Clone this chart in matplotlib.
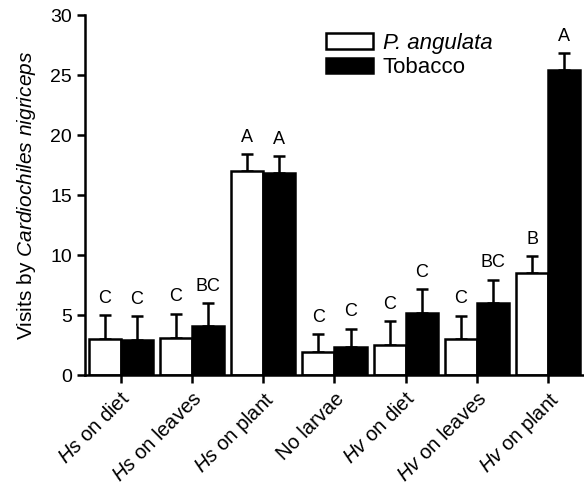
import numpy as np
import matplotlib
matplotlib.use("Agg")
import matplotlib.pyplot as plt

plt.rcParams['font.family'] = ['Liberation Sans', 'DejaVu Sans']
plt.rcParams['mathtext.fontset'] = 'custom'
plt.rcParams['mathtext.rm'] = 'Liberation Sans'
plt.rcParams['mathtext.it'] = 'Liberation Sans:italic'

# ---- DATA
groups   = [r'$\it{Hs}$ on diet', r'$\it{Hs}$ on leaves', r'$\it{Hs}$ on plant', 'No larvae',
            r'$\it{Hv}$ on diet', r'$\it{Hv}$ on leaves', r'$\it{Hv}$ on plant']
angulata = [3.0, 3.1, 17.0, 1.9, 2.5, 3.0, 8.5]
ang_err  = [2.0, 2.0, 1.4, 1.5, 2.0, 1.95, 1.4]
tobacco  = [2.9, 4.05, 16.8, 2.35, 5.15, 6.0, 25.4]
tob_err  = [2.0, 1.95, 1.45, 1.5, 2.0, 1.95, 1.4]
ang_lett = ['C', 'C', 'A', 'C', 'C', 'C', 'B']
tob_lett = ['C', 'BC', 'A', 'C', 'C', 'BC', 'A']

# ---- PLOT
fig = plt.figure(figsize=(5.84, 4.84), dpi=100)
ax  = fig.add_axes([0.1455, 0.2252, 0.8545, 0.7438])

x  = np.arange(len(groups))
w  = 0.45
lw = 1.8

ax.bar(x - w, angulata, w, align='edge', color='white', edgecolor='black', linewidth=lw,
       label='P. angulata', zorder=2)
ax.bar(x, tobacco, w, align='edge', color='black', edgecolor='black', linewidth=lw,
       label='Tobacco', zorder=2)

xa = x - w/2
xt = x + w/2
ax.errorbar(xa, angulata, yerr=[np.zeros(len(x)), ang_err], fmt='none', ecolor='black',
            elinewidth=lw, capsize=4.5, capthick=lw, zorder=1)
ax.errorbar(xt, tobacco, yerr=[np.zeros(len(x)), tob_err], fmt='none', ecolor='black',
            elinewidth=lw, capsize=4.5, capthick=lw, zorder=1)

for i in range(len(x)):
    ax.annotate(ang_lett[i], (xa[i], angulata[i] + ang_err[i]), xytext=(0, 6),
                textcoords='offset points', ha='center', va='bottom', fontsize=13)
    ax.annotate(tob_lett[i], (xt[i], tobacco[i] + tob_err[i]), xytext=(0, 6),
                textcoords='offset points', ha='center', va='bottom', fontsize=13)

ax.set_xlim(-0.5, 6.5)
ax.set_ylim(0, 30)
ax.set_yticks([0, 5, 10, 15, 20, 25, 30])
ax.set_xticks(x)
ax.set_xticklabels(groups, rotation=45, ha='right', rotation_mode='anchor', fontsize=14.5)
ax.tick_params(axis='y', labelsize=14, width=lw, length=6, direction='out')
ax.tick_params(axis='x', width=lw, length=6, direction='out', pad=4)
ax.set_ylabel(r'Visits by $\it{Cardiochiles\ nigriceps}$', fontsize=15, labelpad=9)

for s in ['top', 'right']:
    ax.spines[s].set_visible(False)
for s in ['left', 'bottom']:
    ax.spines[s].set_linewidth(lw)

leg = ax.legend(loc='upper left', bbox_to_anchor=(0.465, 0.975), frameon=False,
                fontsize=16, handlelength=2.1, handleheight=0.68, handletextpad=0.45,
                labelspacing=0.15, borderaxespad=0)
leg.get_texts()[0].set_style('italic')

fig.savefig('out.png', dpi=100)
